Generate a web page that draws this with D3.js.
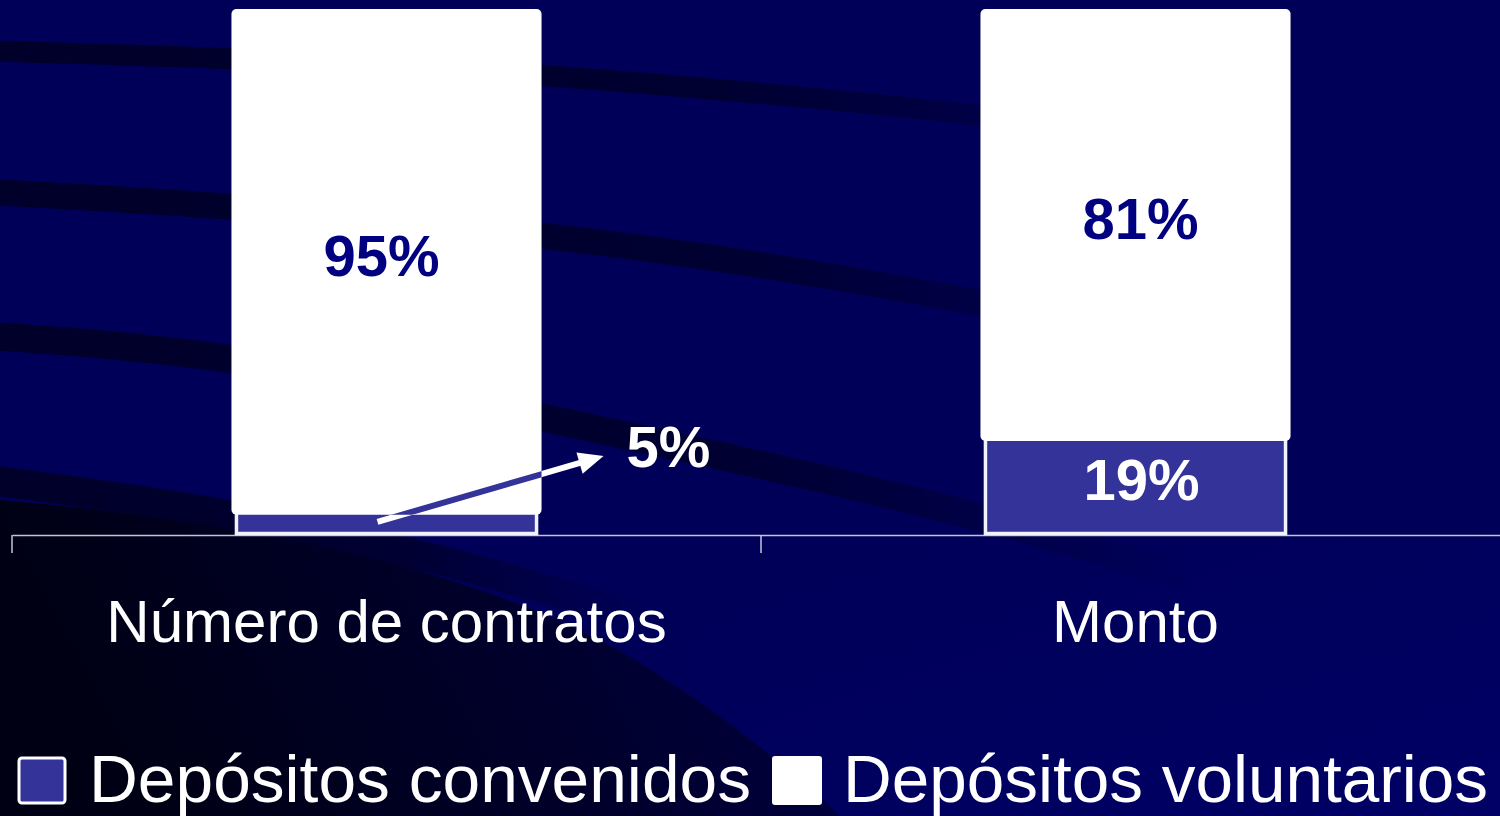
<!DOCTYPE html>
<html>
<head>
<meta charset="utf-8">
<script src="https://cdn.jsdelivr.net/npm/d3@7"></script>
<style>
  html, body { margin: 0; padding: 0; background: #000058; overflow: hidden; }
  svg { display: block; }
  text { font-family: "Liberation Sans", Arial, sans-serif; }
</style>
</head>
<body>
<svg id="chart" width="1500" height="816"></svg>
<script>
// ---- data ----
const categories = ["Número de contratos", "Monto"];
const seriesNames = ["Depósitos convenidos", "Depósitos voluntarios"];
const convenidos = [5, 19];
const voluntarios = [95, 81];
const valueLabels = { convenidos: ["5%", "19%"], voluntarios: ["95%", "81%"] };

const W = 1500, H = 816;
const svg = d3.select("#chart");
const defs = svg.append("defs");

// ---- background ----
svg.append("rect").attr("width", W).attr("height", H).attr("fill", "#000058");

function fadeGrad(id, x2) {
  const g = defs.append("linearGradient").attr("id", id)
    .attr("gradientUnits", "userSpaceOnUse").attr("x1", 0).attr("y1", 0).attr("x2", x2).attr("y2", 0);
  g.append("stop").attr("offset", 0).attr("stop-color", "#00002a").attr("stop-opacity", 1);
  g.append("stop").attr("offset", 0.6).attr("stop-color", "#00002a").attr("stop-opacity", 0.85);
  g.append("stop").attr("offset", 1).attr("stop-color", "#00002a").attr("stop-opacity", 0);
}
fadeGrad("bandFade", 1200);
fadeGrad("bandFadeShort", 650);

const darkGrad = defs.append("linearGradient").attr("id", "darkFade")
  .attr("x1", 0).attr("y1", 0.2).attr("x2", 1).attr("y2", 0);
darkGrad.append("stop").attr("offset", 0).attr("stop-color", "#000014");
darkGrad.append("stop").attr("offset", 0.55).attr("stop-color", "#00002c");
darkGrad.append("stop").attr("offset", 1).attr("stop-color", "#000046");

const lightGrad = defs.append("linearGradient").attr("id", "lightFade")
  .attr("x1", 0).attr("y1", 0).attr("x2", 1).attr("y2", 1);
lightGrad.append("stop").attr("offset", 0).attr("stop-color", "#000062").attr("stop-opacity", 0);
lightGrad.append("stop").attr("offset", 1).attr("stop-color", "#000066").attr("stop-opacity", 1);

svg.append("rect").attr("x", 700).attr("y", 540).attr("width", 800).attr("height", 276)
  .attr("fill", "url(#lightFade)");

const bandLine = d3.line().curve(d3.curveBasis);
const bands = [
  { w: 21, fade: "bandFade", pts: [[-10,51],[300,60],[543,75],[750,92],[980,114],[1250,150]] },
  { w: 26, fade: "bandFade", pts: [[-10,192],[231,205],[543,234],[750,262],[980,302],[1250,355]] },
  { w: 28, fade: "bandFade", pts: [[-10,336],[231,353],[543,417],[750,462],[980,515],[1200,580]] },
  { w: 30, fade: "bandFadeShort", pts: [[-10,480],[231,512],[450,560],[650,620]] }
];
svg.append("g").selectAll("path").data(bands).join("path")
  .attr("d", d => bandLine(d.pts))
  .attr("fill", "none")
  .attr("stroke", d => `url(#${d.fade})`)
  .attr("stroke-width", d => d.w);

svg.append("path")
  .attr("d", "M0,500 C250,522 450,565 600,640 C700,695 780,760 840,816 L0,816 Z")
  .attr("fill", "url(#darkFade)");

// ---- scales ----
const margin = { left: 12, right: -10, top: 9, bottom: 281 };
const baseY = H - margin.bottom; // 535
const x = d3.scaleBand().domain(categories).range([margin.left, W - margin.right]).padding(0);
const y = d3.scaleLinear().domain([0, 100]).range([baseY, margin.top]);
const barW = x.bandwidth() * 0.414;
const cx = d => x(d) + x.bandwidth() / 2;

const table = categories.map((c, i) => ({ cat: c, convenidos: convenidos[i], voluntarios: voluntarios[i] }));
const stack = d3.stack().keys(["convenidos", "voluntarios"])(table);

// ---- axis ----
const axisG = svg.append("g").attr("transform", `translate(0,${baseY})`)
  .call(d3.axisBottom(x).tickSize(0).tickSizeOuter(0).tickFormat(""));
axisG.select(".domain").attr("stroke", "#c4c4d8").attr("stroke-width", 1.5);
axisG.selectAll(".tick").remove();
svg.append("g").selectAll("line").data(categories).join("line")
  .attr("x1", d => x(d)).attr("x2", d => x(d))
  .attr("y1", baseY).attr("y2", baseY + 18)
  .attr("stroke", "#c4c4d8").attr("stroke-width", 1.5);

// ---- bars ----
const conv = stack[0], vol = stack[1];
svg.append("g").selectAll("rect").data(conv).join("rect")
  .attr("x", d => cx(d.data.cat) - barW / 2 + 5)
  .attr("y", d => y(d[1]))
  .attr("width", barW - 10)
  .attr("height", d => y(d[0]) - y(d[1]) - 1.5)
  .attr("fill", "#333399")
  .attr("stroke", "#f2f2fa").attr("stroke-width", 3.5);

svg.append("g").selectAll("rect").data(vol).join("rect")
  .attr("x", d => cx(d.data.cat) - barW / 2)
  .attr("y", d => y(d[1]))
  .attr("width", barW)
  .attr("height", d => y(d[0]) - y(d[1]) + 6)
  .attr("rx", 5).attr("ry", 5)
  .attr("fill", "#ffffff");

// ---- value labels ----
const labelShift = [-5, 5];
svg.append("g").selectAll("text").data(vol).join("text")
  .attr("x", (d, i) => cx(d.data.cat) + labelShift[i])
  .attr("y", d => (y(d[0]) + y(d[1])) / 2 + 17)
  .attr("text-anchor", "middle")
  .attr("font-size", 58).attr("font-weight", "bold")
  .attr("fill", "#000080")
  .text((d, i) => valueLabels.voluntarios[i]);

svg.append("text")
  .attr("x", cx(categories[1]) + 6)
  .attr("y", (y(conv[1][0]) + y(conv[1][1])) / 2 + 15)
  .attr("text-anchor", "middle")
  .attr("font-size", 58).attr("font-weight", "bold")
  .attr("fill", "#ffffff")
  .text(valueLabels.convenidos[1]);

// arrow annotation for small segment (Número de contratos)
const c0 = categories[0];
const barRight = cx(c0) + barW / 2;
const tail = [cx(c0) - 9, y(conv[0][1] / 2)];
const tip = [barRight + 62, y(15)];
const ang = Math.atan2(tip[1] - tail[1], tip[0] - tail[0]);
const headLen = 25, headHalf = 11;
const base = [tip[0] - headLen * Math.cos(ang), tip[1] - headLen * Math.sin(ang)];
const headPts = [
  tip,
  [base[0] + headHalf * Math.sin(ang), base[1] - headHalf * Math.cos(ang)],
  [base[0] - headHalf * Math.sin(ang), base[1] + headHalf * Math.cos(ang)]
];

defs.append("clipPath").attr("id", "barClip").append("rect")
  .attr("x", cx(c0) - barW / 2).attr("y", y(100))
  .attr("width", barW).attr("height", y(conv[0][1]) + 6 - y(100));

function drawArrow(g, color) {
  g.append("line")
    .attr("x1", tail[0]).attr("y1", tail[1])
    .attr("x2", base[0] + 4 * Math.cos(ang)).attr("y2", base[1] + 4 * Math.sin(ang))
    .attr("stroke", color).attr("stroke-width", 6);
  g.append("polygon").attr("points", headPts.map(p => p.join(",")).join(" ")).attr("fill", color);
}
drawArrow(svg.append("g"), "#ffffff");
drawArrow(svg.append("g").attr("clip-path", "url(#barClip)"), "#333399");

svg.append("text")
  .attr("x", tip[0] + 23).attr("y", y(13))
  .attr("font-size", 58).attr("font-weight", "bold")
  .attr("fill", "#ffffff")
  .text(valueLabels.convenidos[0]);

// ---- category labels ----
svg.append("g").selectAll("text").data(categories).join("text")
  .attr("x", d => cx(d))
  .attr("y", baseY + 107)
  .attr("text-anchor", "middle")
  .attr("font-size", 60)
  .attr("fill", "#ffffff")
  .text(d => d);

// ---- legend ----
const legendColors = ["#333399", "#ffffff"];
const legendItems = [
  { sq: [19, 758, 46, 45], tx: 89, len: 662 },
  { sq: [772, 756, 50, 49], tx: 843, len: 645 }
];
const lg = svg.append("g");
seriesNames.forEach((name, i) => {
  const it = legendItems[i];
  lg.append("rect")
    .attr("x", it.sq[0]).attr("y", it.sq[1]).attr("width", it.sq[2]).attr("height", it.sq[3])
    .attr("rx", 3)
    .attr("fill", legendColors[i])
    .attr("stroke", "#ffffff").attr("stroke-width", i === 0 ? 3 : 0);
  lg.append("text")
    .attr("x", it.tx).attr("y", 802)
    .attr("font-size", 66)
    .attr("fill", "#ffffff")
    .attr("textLength", it.len).attr("lengthAdjust", "spacingAndGlyphs")
    .text(name);
});
</script>
</body>
</html>
